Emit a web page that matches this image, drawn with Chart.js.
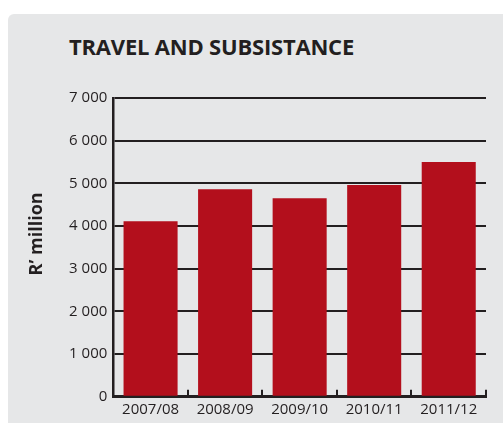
<!DOCTYPE html>
<html>
<head>
<meta charset="utf-8">
<script src="https://cdn.jsdelivr.net/npm/chart.js@4"></script>
<style>
  html, body { margin: 0; padding: 0; background: #fff; }
  #wrap { position: relative; width: 503px; height: 423px; overflow: hidden; }
  #panel {
    position: absolute; left: 8px; top: 14px; right: 0; bottom: 0;
    background: #e6e7e8; border-top-left-radius: 6px;
  }
  #title {
    position: absolute; left: 69px; top: 35px; margin: 0;
    font: bold 22px/22px "Open Sans", sans-serif; color: #231f20;
    letter-spacing: -0.2px;
  }
  #chart-box { position: absolute; left: 0; top: 0; width: 503px; height: 423px; }
</style>
</head>
<body>
<div id="wrap">
  <div id="panel"></div>
  <h2 id="title">TRAVEL AND SUBSISTANCE</h2>
  <div id="chart-box"><canvas id="travelChart"></canvas></div>
</div>
<script>
const years = ['2007/08', '2008/09', '2009/10', '2010/11', '2011/12'];
const spend = [4110, 4860, 4650, 4960, 5500];
const yTicks = [0, 1000, 2000, 3000, 4000, 5000, 6000, 7000];

const ink = '#231f20';
const barRed = '#b30f1c';

// thousands with a space, e.g. 7 000
const fmt = v => String(v).replace(/\B(?=(\d{3})+(?!\d))/g, ' ');

const ctx = document.getElementById('travelChart').getContext('2d');
const travelChart = new Chart(ctx, {
    type: 'bar',
    data: {
        labels: years,
        datasets: [{
            label: 'Travel and subsistance',
            data: spend,
            backgroundColor: barRed,
            borderWidth: 0,
            categoryPercentage: 1,
            barPercentage: 0.725
        }]
    },
    options: {
        responsive: true,
        maintainAspectRatio: false,
        animation: false,
        layout: { padding: { top: 98, right: 17, bottom: 0, left: 26 } },
        plugins: {
            legend: { display: false },
            tooltip: { enabled: false }
        },
        scales: {
            x: {
                z: 1,
                grid: { drawOnChartArea: false, color: ink, lineWidth: 2, tickLength: -7 },
                border: { color: ink, width: 3 },
                ticks: {
                    color: ink,
                    font: { family: 'Open Sans', size: 15 },
                    padding: 11,
                    maxRotation: 0
                },
                afterFit: scale => { scale.height = 26.3; }
            },
            y: {
                min: 0,
                max: 7000,
                afterBuildTicks: scale => { scale.ticks = yTicks.map(v => ({ value: v })); },
                grid: { color: ink, lineWidth: 2, drawTicks: false },
                border: { color: ink, width: 2.5 },
                ticks: {
                    color: ink,
                    font: { family: 'Open Sans', size: 15 },
                    padding: 6,
                    callback: v => fmt(v)
                },
                title: {
                    display: true,
                    // leading em + en space nudges the label a little above the axis middle
                    text: '\u2003\u2002R’ million',
                    color: ink,
                    font: { family: 'Open Sans', size: 18, weight: 'bold' },
                    padding: { top: 0, bottom: 0 }
                },
                afterFit: scale => { scale.width = 87.3; }
            }
        }
    }
});
</script>
</body>
</html>
